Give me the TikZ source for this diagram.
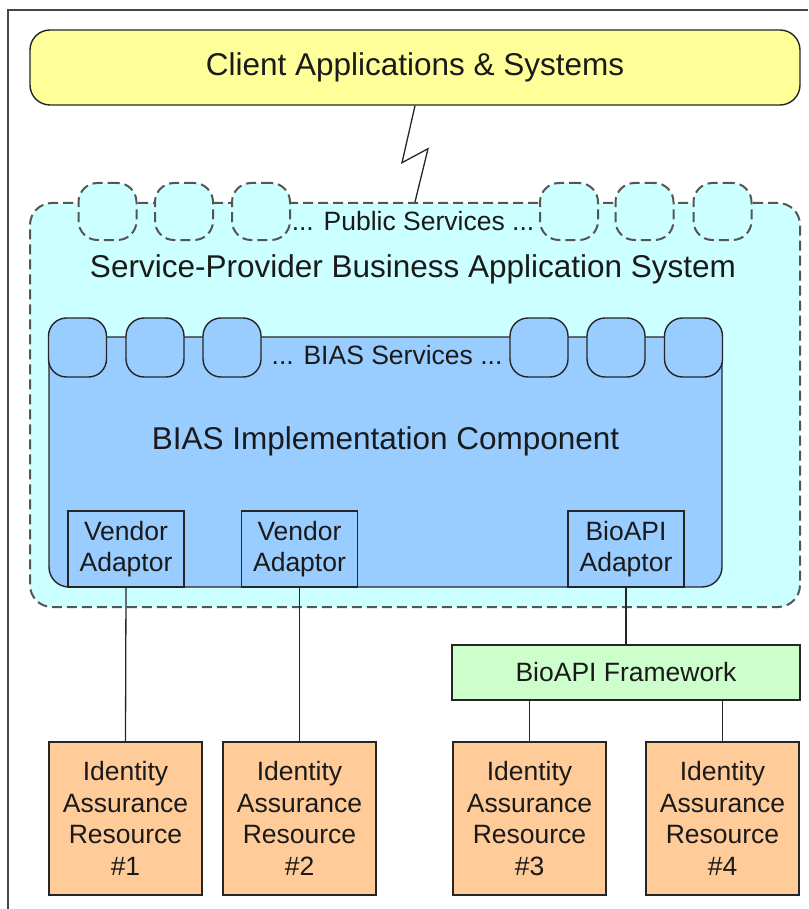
\documentclass[tikz,border=0pt]{standalone}
\usepackage{fontspec}
\setmainfont{Liberation Sans}
\definecolor{clientfill}{HTML}{FFFF99}
\definecolor{sysfill}{HTML}{CCFFFF}
\definecolor{biasfill}{HTML}{99CCFF}
\definecolor{fwfill}{HTML}{CCFFCC}
\definecolor{resfill}{HTML}{FFCC99}
\definecolor{edge}{HTML}{262626}
\definecolor{dashedge}{HTML}{555555}
\definecolor{txt}{HTML}{1A1A1A}
\tikzset{
  bigtext/.style={font=\fontsize{31.5}{36}\selectfont, text=txt},
  smalltext/.style={font=\fontsize{26.5}{31.5}\selectfont, text=txt, align=center},
  box/.style={draw=edge, line width=1.4pt, inner sep=0pt, minimum width=#1},
  dashbox/.style={draw=dashedge, line width=2pt, dash pattern=on 10pt off 5pt, fill=sysfill, inner sep=0pt},
  pubsvc/.style={dashbox, rounded corners=19pt, minimum width=58pt, minimum height=57pt},
  biassvc/.style={draw=edge, line width=1.4pt, fill=biasfill, rounded corners=18pt, minimum width=58pt, minimum height=59pt, inner sep=0pt},
  adaptor/.style={box=116pt, fill=biasfill, minimum height=76pt, smalltext},
  resource/.style={box=153pt, fill=resfill, minimum height=153pt, smalltext},
  wire/.style={draw=edge, line width=1.3pt}
}
\begin{document}
\begin{tikzpicture}[x=1pt,y=-1pt]
\useasboundingbox (0,0) rectangle (808,909);
% outer frame (left and top edges)
\draw[draw=edge!85, line width=2pt] (8,909) -- (8,10) -- (808,10);

% client tier
\node[box=770pt, fill=clientfill, minimum height=75pt, rounded corners=20pt, bigtext] (client) at (415,67.5) {Client Applications \& Systems};

% service-provider system container
\node[dashbox, rounded corners=22pt, minimum width=770pt, minimum height=404pt] (sbas) at (415,405) {};
\foreach \n/\x in {1/107.5, 2/184, 3/261, 4/569, 5/644.5, 6/722.5}
  \node[pubsvc] (pub\n) at (\x,211.5) {};
\node[smalltext] (pubtxt) at (413,221) {... Public Services ...};
\node[bigtext] (sbastxt) at (413,269) {Service-Provider Business Application System};

% BIAS implementation component
\node[box=673pt, fill=biasfill, minimum height=250pt, rounded corners=20pt] (bias) at (385.5,462) {};
\foreach \n/\x in {1/77.5, 2/155, 3/232, 4/539, 5/616, 6/693.5}
  \node[biassvc] (svc\n) at (\x,347.5) {};
\node[smalltext] (svctxt) at (387,355) {... BIAS Services ...};
\node[bigtext] (biastxt) at (385.5,441) {BIAS Implementation Component};

% adaptors
\node[adaptor] (va1) at (126,549) {Vendor\\Adaptor};
\node[adaptor] (va2) at (299.5,549) {Vendor\\Adaptor};
\node[adaptor] (bioad) at (626,549) {BioAPI\\Adaptor};

% BioAPI framework
\node[box=348pt, fill=fwfill, minimum height=55pt, smalltext] (fw) at (626,672.5) {BioAPI Framework};

% identity assurance resources
\node[resource] (iar1) at (125.5,818.5) {Identity\\Assurance\\Resource\\\#1};
\node[resource] (iar2) at (299.5,818.5) {Identity\\Assurance\\Resource\\\#2};
\node[resource] (iar3) at (529.5,818.5) {Identity\\Assurance\\Resource\\\#3};
\node[resource] (iar4) at (722.5,818.5) {Identity\\Assurance\\Resource\\\#4};

% connectors
\draw[wire] (client.south) -- ++(-13,57) -- ++(26,-14) -- (sbas.north);
\draw[wire] (va1.south) -- (iar1.north);
\draw[wire] (va2.south) -- (iar2.north);
\draw[wire] (bioad.south) -- (fw.north);
\draw[wire] (fw.south -| iar3.north) -- (iar3.north);
\draw[wire] (fw.south -| iar4.north) -- (iar4.north);
\end{tikzpicture}
\end{document}
